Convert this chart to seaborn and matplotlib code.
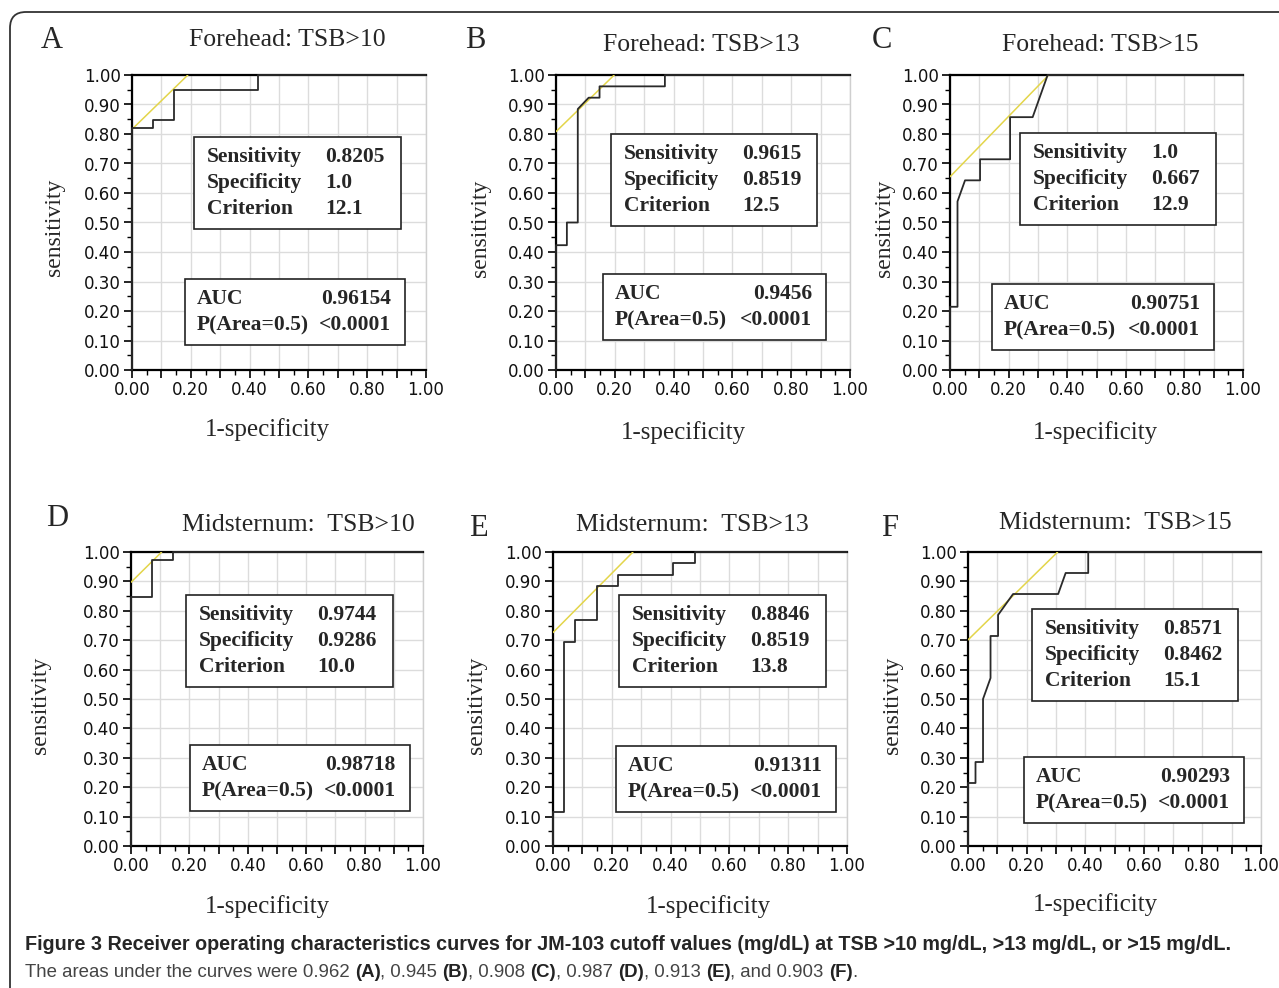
import numpy as np
import matplotlib
matplotlib.use("Agg")
import matplotlib.pyplot as plt
import seaborn as sns
from matplotlib.patches import FancyBboxPatch, Rectangle
from matplotlib.transforms import IdentityTransform
from matplotlib import font_manager

# ---------------- data ----------------
panel_letters = ["A", "B", "C", "D", "E", "F"]
titles = ["Forehead: TSB>10", "Forehead: TSB>13", "Forehead: TSB>15",
          "Midsternum:  TSB>10", "Midsternum:  TSB>13", "Midsternum:  TSB>15"]

fpr_A = [0, 0, 0.0714, 0.0714, 0.1429, 0.1429, 0.4286, 0.4286, 1.0]
tpr_A = [0, 0.8205, 0.8205, 0.8462, 0.8462, 0.9487, 0.9487, 1.0, 1.0]
fpr_B = [0, 0, 0.037, 0.037, 0.0741, 0.0741, 0.1111, 0.1481, 0.1481, 0.3704, 0.3704, 1.0]
tpr_B = [0, 0.4231, 0.4231, 0.5, 0.5, 0.8846, 0.9231, 0.9231, 0.9615, 0.9615, 1.0, 1.0]
fpr_C = [0, 0, 0.0256, 0.0256, 0.0513, 0.1026, 0.1026, 0.2051, 0.2051, 0.2821, 0.3333, 1.0]
tpr_C = [0, 0.2143, 0.2143, 0.5714, 0.6429, 0.6429, 0.7143, 0.7143, 0.8571, 0.8571, 1.0, 1.0]
fpr_D = [0, 0, 0.0714, 0.0714, 0.1429, 0.1429, 1.0]
tpr_D = [0, 0.8462, 0.8462, 0.9744, 0.9744, 1.0, 1.0]
fpr_E = [0, 0, 0.037, 0.037, 0.0741, 0.0741, 0.1481, 0.1481, 0.2222, 0.2222, 0.4074, 0.4074, 0.4815, 0.4815, 1.0]
tpr_E = [0, 0.1154, 0.1154, 0.6923, 0.6923, 0.7692, 0.7692, 0.8846, 0.8846, 0.9231, 0.9231, 0.9615, 0.9615, 1.0, 1.0]
fpr_F = [0, 0, 0.0256, 0.0256, 0.0513, 0.0513, 0.0769, 0.0769, 0.1026, 0.1026, 0.1538, 0.3077, 0.3333, 0.4103, 0.4103, 1.0]
tpr_F = [0, 0.2143, 0.2143, 0.2857, 0.2857, 0.5, 0.5714, 0.7143, 0.7143, 0.7857, 0.8571, 0.8571, 0.9286, 0.9286, 1.0, 1.0]
fprs = [fpr_A, fpr_B, fpr_C, fpr_D, fpr_E, fpr_F]
tprs = [tpr_A, tpr_B, tpr_C, tpr_D, tpr_E, tpr_F]

# yellow reference lines (x0, x1), (y0, y1)
ref_x = [[0, 0.19], [0, 0.198], [0, 0.337], [0, 0.105], [0, 0.272], [0, 0.306]]
ref_y = [[0.816, 1.0], [0.808, 1.0], [0.655, 1.0], [0.897, 1.0], [0.726, 1.0], [0.701, 1.0]]

sensitivity = ["0.8205", "0.9615", "1.0", "0.9744", "0.8846", "0.8571"]
specificity = ["1.0", "0.8519", "0.667", "0.9286", "0.8519", "0.8462"]
criterion = ["12.1", "12.5", "12.9", "10.0", "13.8", "15.1"]
auc = ["0.96154", "0.9456", "0.90751", "0.98718", "0.91311", "0.90293"]
p_value = ["<0.0001"] * 6

x_tick_vals = [0.0, 0.2, 0.4, 0.6, 0.8, 1.0]
x_tick_labels = ["0.00", "0.20", "0.40", "0.60", "0.80", "1.00"]
y_tick_vals = [0.0, 0.1, 0.2, 0.3, 0.4, 0.5, 0.6, 0.7, 0.8, 0.9, 1.0]
y_tick_labels = ["0.00", "0.10", "0.20", "0.30", "0.40", "0.50", "0.60", "0.70", "0.80", "0.90", "1.00"]

caption_bold = ("Figure 3 Receiver operating characteristics curves for JM-103 cutoff values "
                "(mg/dL) at TSB >10 mg/dL, >13 mg/dL, or >15 mg/dL.")
caption_parts = [("The areas under the curves were 0.962 ", False), ("(A)", True), (", 0.945 ", False),
                 ("(B)", True), (", 0.908 ", False), ("(C)", True), (", 0.987 ", False), ("(D)", True),
                 (", 0.913 ", False), ("(E)", True), (", and 0.903 ", False), ("(F)", True), (".", False)]

# ---------------- layout (pixels) ----------------
W, H = 1279, 988
axes_px = [(132, 426, 75, 370), (556, 850, 75, 370), (950, 1243, 75, 370),
           (131, 423, 552, 846), (553, 847, 552, 846), (968, 1261, 552, 846)]
title_px = [(287, 40), (701, 45), (1100, 45), (298, 525), (692, 525), (1115, 523)]
letter_px = [(52, 40), (475, 40), (882, 40), (57, 518), (478, 528), (890, 528)]
ylab_px = [(55, 227), (480, 228), (884, 228), (40, 705), (476, 705), (893, 705)]
xlab_px = [(267, 430), (683, 433), (1095, 433), (267, 907), (708, 907), (1095, 905)]
stat_box = [(194, 137, 207), (611, 134, 206), (1020, 133, 196), (186, 595, 207), (619, 595, 207), (1032, 609, 206)]
auc_box = [(185, 279, 220), (603, 274, 223), (992, 284, 222), (190, 745, 220), (616, 746, 220), (1024, 757, 220)]

def fx(px):
    return px / W

def fy(py):
    return 1 - py / H

sns.set_style("white")
plt.rcParams["font.family"] = ["DejaVu Sans"]
SERIF = ["Liberation Serif", "DejaVu Serif"]
avail = {f.name for f in font_manager.fontManager.ttflist}
CAPFONT = ["Liberation Sans Narrow"] if "Liberation Sans Narrow" in avail else ["Liberation Sans", "DejaVu Sans"]

fig = plt.figure(figsize=(W / 100, H / 100), dpi=100)
fig.patch.set_facecolor("white")

# outer rounded border
border = FancyBboxPatch((10, -60), 1400, H - 12 + 60, boxstyle="round,pad=0,rounding_size=16",
                        transform=IdentityTransform(), fill=False, edgecolor="#333333", lw=1.3)
fig.patches.append(border)

for i in range(6):
    l, r, t, b = axes_px[i]
    ax = fig.add_axes([fx(l), fy(b), (r - l) / W, (b - t) / H])
    ax.set_xlim(0, 1)
    ax.set_ylim(0, 1)
    xt = np.round(np.arange(0, 1.01, 0.1), 2)
    ax.set_xticks(xt)
    ax.set_xticklabels([x_tick_labels[x_tick_vals.index(v)] if v in x_tick_vals else "" for v in xt])
    ax.set_yticks(y_tick_vals)
    ax.set_yticklabels(y_tick_labels)
    ax.set_xticks(np.arange(0.05, 1.0, 0.1), minor=True)
    ax.set_yticks(np.arange(0.05, 1.0, 0.1), minor=True)
    ax.grid(True, which="major", color="#dcdcdc", lw=1.0)
    ax.set_axisbelow(True)
    ax.tick_params(which="major", direction="out", length=6, width=1.2, color="black",
                   labelsize=12, pad=2, left=True, bottom=True, labelcolor="#111111")
    ax.tick_params(which="minor", direction="out", length=3.5, width=1.0, color="black", left=True, bottom=True)
    for s in ["left", "bottom", "top"]:
        ax.spines[s].set_color("black")
        ax.spines[s].set_linewidth(1.6)
    ax.spines["right"].set_color("#cfcfcf")
    ax.spines["right"].set_linewidth(1.0)

    sns.lineplot(x=ref_x[i], y=ref_y[i], ax=ax, sort=False, estimator=None,
                 color="#e3d54a", lw=1.1, zorder=3)
    sns.lineplot(x=fprs[i], y=tprs[i], ax=ax, sort=False, estimator=None,
                 color="#2a2a2a", lw=1.3, zorder=4, clip_on=False)
    ax.set_xlabel("")
    ax.set_ylabel("")

    # titles & labels
    fig.text(fx(title_px[i][0]), fy(title_px[i][1]), titles[i], family=SERIF, fontsize=18.5,
             ha="center", va="center")
    fig.text(fx(letter_px[i][0]), fy(letter_px[i][1]), panel_letters[i], family=SERIF, fontsize=22,
             ha="center", va="center")
    fig.text(fx(ylab_px[i][0]), fy(ylab_px[i][1]), "sensitivity", family=SERIF, fontsize=17,
             ha="center", va="center", rotation=90)
    fig.text(fx(xlab_px[i][0]), fy(xlab_px[i][1]), "1-specificity", family=SERIF, fontsize=18,
             ha="center", va="center")

    # stats box
    bx, by, bw = stat_box[i]
    fig.patches.append(Rectangle((fx(bx), fy(by + 92)), bw / W, 92 / H, transform=fig.transFigure,
                                 fill=True, facecolor="white", edgecolor="#222222", lw=1.2, zorder=5))
    rows = [("Sensitivity", sensitivity[i]), ("Specificity", specificity[i]), ("Criterion", criterion[i])]
    for k, (lab, val) in enumerate(rows):
        yy = by + 20 + 26 * k
        fig.text(fx(bx + 13), fy(yy), lab, family=SERIF, weight="bold", fontsize=15.5, ha="left", va="center", zorder=6)
        fig.text(fx(bx + 131), fy(yy), val, family=SERIF, weight="bold", fontsize=15.5, ha="left", va="center", zorder=6)

    # AUC box
    ax0, ay0, aw = auc_box[i]
    fig.patches.append(Rectangle((fx(ax0), fy(ay0 + 66)), aw / W, 66 / H, transform=fig.transFigure,
                                 fill=True, facecolor="white", edgecolor="#222222", lw=1.2, zorder=5))
    fig.text(fx(ax0 + 12), fy(ay0 + 20), "AUC", family=SERIF, weight="bold", fontsize=15.5, ha="left", va="center", zorder=6)
    fig.text(fx(ax0 + aw - 14), fy(ay0 + 20), auc[i], family=SERIF, weight="bold", fontsize=15.5, ha="right", va="center", zorder=6)
    fig.text(fx(ax0 + 12), fy(ay0 + 46), "P(Area=0.5)", family=SERIF, weight="bold", fontsize=15.5, ha="left", va="center", zorder=6)
    fig.text(fx(ax0 + aw - 14), fy(ay0 + 46), p_value[i], family=SERIF, weight="bold", fontsize=15.5, ha="right", va="center", zorder=6)

# caption
renderer = fig.canvas.get_renderer()
fs = 13
t1 = fig.text(fx(25), fy(945), caption_bold, family=CAPFONT, weight="bold", fontsize=fs, ha="left", va="center")
wpx = t1.get_window_extent(renderer).width
t1.set_fontsize(fs * 1200 / wpx)

# second line: size it to reach ~x=857 like the reference
texts2 = []
x = 25
fs2 = 13
for txt, bold in caption_parts:
    t = fig.text(fx(x), fy(972), txt, family=CAPFONT, weight="bold" if bold else "normal",
                 fontsize=fs2, color="#222222" if bold else "#444444", ha="left", va="center")
    texts2.append(t)
    x += t.get_window_extent(renderer).width
scale = (857 - 25) / (x - 25)
x = 25
for t in texts2:
    t.set_fontsize(fs2 * scale)
    t.set_x(fx(x))
    x += t.get_window_extent(renderer).width

fig.savefig("out.png", dpi=100)
